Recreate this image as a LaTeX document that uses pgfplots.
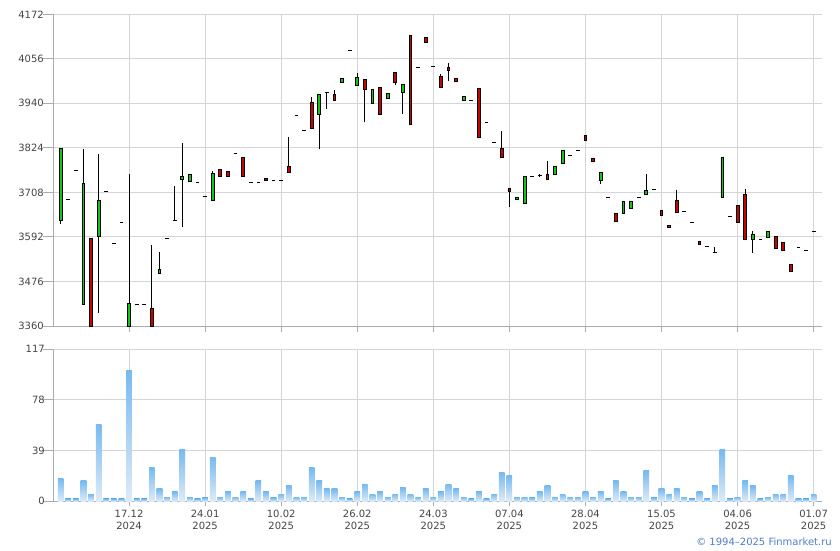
\documentclass[border=0pt]{standalone}
\usepackage{fontspec}
\setmainfont{DejaVu Sans}
\usepackage{pgfplots}
\usepackage{pgfplotstable}
\pgfplotsset{compat=1.18}

\definecolor{axgray}{RGB}{168,172,180}
\definecolor{gridgray}{RGB}{210,214,218}
\definecolor{lblgray}{RGB}{68,68,68}
\definecolor{cgreen}{RGB}{16,200,16}
\definecolor{cred}{RGB}{204,0,0}
\definecolor{voltop}{RGB}{120,186,240}
\definecolor{volbot}{RGB}{222,235,248}
\definecolor{copyblue}{RGB}{80,124,200}

% i = trading day index, o h l c = price, v = volume
\pgfplotstableread{
i o h l c v
0 3634 3822 3626 3822 17.2
1 3690 3690 3690 3690 1.8
2 3765 3765 3765 3765 1.8
3 3416 3822 3416 3731 15.7
4 3588 3588 3360 3360 5.6
5 3593 3809 3393 3687 59.5
6 3710 3710 3710 3710 1.8
7 3575 3575 3575 3575 1.8
8 3630 3630 3630 3630 1.8
9 3360 3756 3360 3419 101
10 3416 3416 3416 3416 1.8
11 3416 3416 3416 3416 1.8
12 3406 3571 3360 3360 25.7
13 3497 3552 3497 3508 9.5
14 3588 3588 3588 3588 3.3
15 3634 3724 3634 3634 7.2
16 3742 3838 3618 3749 39.5
17 3736 3755 3736 3755 3.3
18 3734 3734 3734 3734 1.8
19 3698 3698 3698 3698 2.6
20 3687 3764 3687 3757 34.1
21 3768 3768 3750 3750 3.3
22 3763 3763 3750 3750 7.2
23 3809 3809 3809 3809 3.3
24 3800 3800 3750 3750 7.2
25 3734 3734 3734 3734 1.8
26 3734 3734 3734 3734 15.7
27 3744 3744 3739 3739 7.2
28 3739 3739 3739 3739 2.6
29 3739 3739 3739 3739 5.6
30 3776 3852 3760 3760 11.8
31 3908 3908 3908 3908 3.3
32 3869 3869 3869 3869 3.3
33 3942 3957 3875 3875 25.7
34 3911 3963 3822 3963 15.7
35 3968 3968 3925 3968 9.5
36 3963 3974 3947 3947 9.5
37 3994 4004 3994 4004 3.3
38 4078 4078 4078 4078 1.8
39 3986 4018 3986 4007 7.2
40 4002 4002 3892 3976 13.3
41 3940 3976 3940 3976 5.6
42 3981 3981 3911 3911 7.2
43 3952 3966 3952 3966 3.3
44 4020 4020 3989 3994 5.6
45 3968 3989 3913 3989 10.3
46 4117 4117 3885 3885 5.6
47 4033 4033 4033 4033 3.3
48 4111 4111 4098 4098 9.5
49 4036 4036 4036 4036 3.3
50 4010 4017 3981 3981 7.2
51 4033 4046 3997 4027 13.3
52 4005 4005 3997 3997 9.5
53 3947 3958 3947 3958 3.3
54 3947 3947 3947 3947 1.8
55 3979 3979 3851 3851 7.2
56 3890 3890 3890 3890 1.8
57 3838 3838 3838 3838 5.6
58 3822 3867 3799 3799 21.8
59 3718 3718 3671 3711 19.5
60 3690 3695 3690 3695 3.3
61 3679 3750 3679 3750 3.3
62 3750 3750 3750 3750 2.6
63 3752 3757 3749 3752 7.2
64 3755 3791 3742 3742 11.8
65 3755 3776 3755 3776 3.3
66 3783 3817 3783 3817 5.6
67 3804 3804 3804 3804 3.3
68 3817 3817 3817 3817 3.3
69 3856 3856 3843 3843 7.2
70 3796 3796 3789 3789 3.3
71 3739 3760 3729 3760 7.2
72 3695 3695 3695 3695 1.8
73 3653 3653 3633 3633 15.7
74 3653 3685 3653 3685 7.2
75 3666 3685 3666 3685 3.3
76 3695 3695 3695 3695 3.3
77 3703 3757 3703 3713 23.4
78 3716 3716 3716 3716 2.6
79 3661 3661 3648 3648 9.5
80 3622 3622 3617 3617 5.6
81 3687 3713 3656 3656 9.5
82 3659 3659 3659 3659 3.3
83 3630 3630 3630 3630 1.8
84 3580 3580 3573 3573 7.2
85 3567 3567 3567 3567 1.8
86 3552 3565 3552 3552 11.8
87 3695 3799 3695 3799 39.5
88 3646 3646 3646 3646 1.8
89 3674 3674 3630 3630 3.3
90 3703 3718 3586 3586 15.7
91 3586 3607 3549 3599 11.8
92 3586 3586 3586 3586 1.8
93 3591 3607 3591 3607 3.3
94 3593 3593 3562 3562 5.6
95 3578 3578 3557 3557 5.6
96 3521 3521 3502 3502 19.5
97 3565 3565 3565 3565 1.8
98 3557 3557 3557 3557 1.8
99 3607 3607 3604 3607 5.6
}\quotes

\pgfplotsset{
  chartbase/.style={
    scale only axis,
    width=768.7pt,
    xmin=-0.96, xmax=100.1,
    axis lines*=left,
    axis line style={axgray, line width=1pt},
    grid=major,
    grid style={gridgray, line width=1pt},
    tick style={axgray, line width=1pt},
    tick align=outside,
    major tick length=6pt,
    ytick style={/pgfplots/major tick length=10pt},
    xtick={9,19,...,99},
    ticklabel style={font=\fontsize{10}{12}\selectfont, text=lblgray},
  },
}

\begin{document}
\begin{tikzpicture}
\path[use as bounding box] (0,0) rectangle (840pt,550pt);

% price axis: grid, wicks and close ticks
\begin{axis}[chartbase,
  at={(53.3pt,224pt)}, anchor=south west,
  height=311.7pt,
  ymin=3360, ymax=4172,
  ytick={3360,3476,3592,3708,3824,3940,4056,4172},
  yticklabels={3360,3476,3592,3708,3824,3940,4056,4172},
  xticklabels={},
]
\addplot[draw=none, mark=none,
  error bars/.cd, y dir=both, y explicit, error mark=none,
  error bar style={draw=black, line width=1pt}]
  table[x=i, y=o,
        y error plus expr=\thisrow{h}-\thisrow{o},
        y error minus expr=\thisrow{o}-\thisrow{l}] {\quotes};
\addplot[draw=none, mark=none,
  error bars/.cd, x dir=both, x fixed=0.245, error mark=none,
  error bar style={draw=black, line width=1pt}]
  table[x=i, y=c] {\quotes};
\end{axis}

% price axis: candle bodies
\begin{axis}[
  scale only axis, width=768.7pt, height=311.7pt,
  at={(53.3pt,224pt)}, anchor=south west,
  xmin=-0.96, xmax=100.1, ymin=3360, ymax=4172,
  hide axis,
  ybar stacked, bar width=2.8pt,
]
\addplot[draw=none, fill=none]
  table[x=i, y expr={min(\thisrow{o},\thisrow{c})}] {\quotes};
\addplot[draw=black, line width=0.9pt, fill=cgreen]
  table[x=i, y expr={max(\thisrow{c}-\thisrow{o},0)}] {\quotes};
\addplot[draw=black, line width=0.9pt, fill=cred]
  table[x=i, y expr={max(\thisrow{o}-\thisrow{c},0)}] {\quotes};
\end{axis}

% volume axis
\begin{axis}[chartbase,
  at={(53.3pt,48.7pt)}, anchor=south west,
  height=152pt,
  ymin=0, ymax=117,
  ytick={0,39,78,117},
  yticklabels={0,39,78,117},
  major tick length=5pt,
  xticklabels={17.12\\2024,24.01\\2025,10.02\\2025,26.02\\2025,24.03\\2025,07.04\\2025,28.04\\2025,15.05\\2025,04.06\\2025,01.07\\2025},
  xticklabel style={align=center},
]
% one plot per bar so that each bar gets its own gradient
\pgfplotsinvokeforeach{0,...,99}{
  \addplot[ybar, bar width=5.7pt, bar shift=0pt, draw=none,
    top color=voltop, bottom color=volbot,
    restrict x to domain=#1:#1]
    table[x=i, y=v] {\quotes};
}
\end{axis}

\node[anchor=base east, inner sep=0pt, text=copyblue, font=\fontsize{10}{12}\selectfont]
  at (832pt,4.5pt) {© 1994–2025 Finmarket.ru};
\end{tikzpicture}
\end{document}
